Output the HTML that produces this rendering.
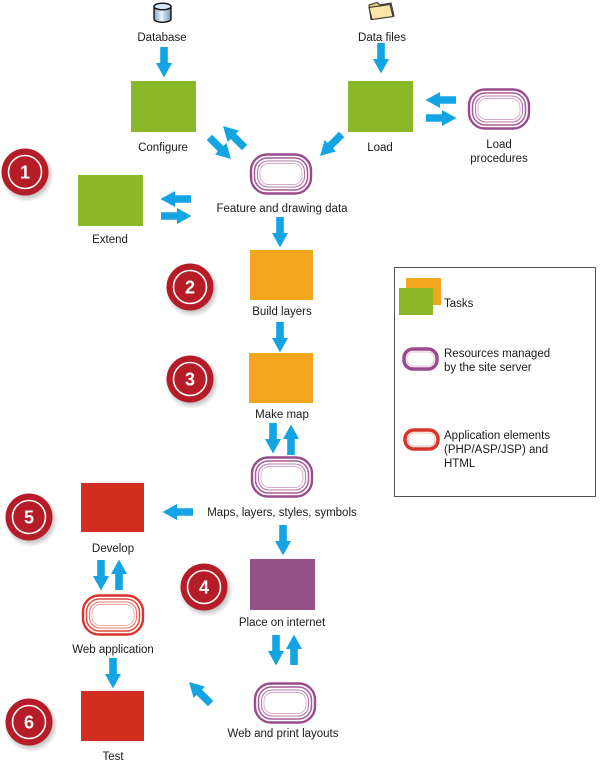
<!DOCTYPE html>
<html><head><meta charset="utf-8"><style>
html,body{margin:0;padding:0;background:#fff;}
svg{display:block;}
text{font-family:"Liberation Sans",Arial,sans-serif;font-size:11.5px;fill:#1a1a1a;}
.c{text-anchor:middle;}
.n{font-size:18px;font-weight:bold;fill:#fff;text-anchor:middle;}
</style></head><body>
<svg width="600" height="764" viewBox="0 0 600 764" xmlns="http://www.w3.org/2000/svg">
<defs>
  <polygon id="ar" points="-15,-3.8 1,-3.8 1,-8 15.5,0 1,8 1,3.8 -15,3.8" fill="#12a4e3"/>
  <g id="pe">
    <rect x="-30" y="-19.5" width="60" height="39" rx="16" fill="#fff" stroke="#9a4b8e" stroke-width="2.4"/>
    <rect x="-26.5" y="-16" width="53" height="32" rx="13" fill="none" stroke="#a65a9a" stroke-width="1.5"/>
    <rect x="-23.5" y="-13" width="47" height="26" rx="10.5" fill="none" stroke="#b77aac" stroke-width="1.1"/>
    <rect x="-21" y="-10.5" width="42" height="21" rx="8.5" fill="none" stroke="#d3aacb" stroke-width="0.9"/>
  </g>
  <g id="re">
    <rect x="-30" y="-19.5" width="60" height="39" rx="16" fill="#fff" stroke="#d8342a" stroke-width="2.4"/>
    <rect x="-26.5" y="-16" width="53" height="32" rx="13" fill="none" stroke="#df4a40" stroke-width="1.5"/>
    <rect x="-23.5" y="-13" width="47" height="26" rx="10.5" fill="none" stroke="#e87870" stroke-width="1.1"/>
    <rect x="-21" y="-10.5" width="42" height="21" rx="8.5" fill="none" stroke="#f0aaa5" stroke-width="0.9"/>
  </g>
  <radialGradient id="sh" cx="0.5" cy="0.5" r="0.5">
    <stop offset="0.75" stop-color="#000" stop-opacity="0.25"/>
    <stop offset="1" stop-color="#000" stop-opacity="0"/>
  </radialGradient>
  <g id="bd">
    <circle cx="2" cy="3" r="27" fill="url(#sh)"/>
    <circle cx="0" cy="0" r="23.5" fill="#b51c27"/>
    <circle cx="0" cy="0" r="16.5" fill="none" stroke="#fff" stroke-width="1.6"/>
  </g>
  <linearGradient id="cyl" x1="0" x2="1">
    <stop offset="0" stop-color="#7fa9c9"/><stop offset="0.45" stop-color="#e8f2fa"/><stop offset="1" stop-color="#6d95b8"/>
  </linearGradient>
</defs>

<!-- Database icon -->
<g stroke="#111" stroke-width="1.4">
  <path d="M154,6.5 L154,19 A8.5,3.3 0 0 0 171,19 L171,6.5" fill="url(#cyl)"/>
  <ellipse cx="162.5" cy="6.5" rx="8.5" ry="3.3" fill="#d6e6f2"/>
</g>
<text class="c" x="162" y="41">Database</text>

<!-- Data files folder -->
<g stroke="#333" stroke-width="1.1">
  <path d="M369,5 L377,2.5 L380,5 L391,3 L394,16 L371,19.5 Z" fill="#e9c877"/>
  <path d="M369,7.5 L390,4.5 L393,16.5 L372,19.5 Z" fill="#fbe6a8"/>
</g>
<text class="c" x="382" y="41">Data files</text>

<!-- Green task boxes -->
<rect x="131" y="81" width="65" height="51" fill="#8bb829"/>
<text class="c" x="163" y="151">Configure</text>
<rect x="348" y="81" width="65" height="51" fill="#8bb829"/>
<text class="c" x="380" y="151">Load</text>
<rect x="78" y="175" width="65" height="51" fill="#8bb829"/>
<text class="c" x="110" y="243">Extend</text>

<!-- Orange boxes -->
<rect x="250" y="250" width="63" height="50" fill="#f2a61d"/>
<text class="c" x="282" y="315">Build layers</text>
<rect x="249" y="353" width="64" height="50" fill="#f2a61d"/>
<text class="c" x="282" y="418">Make map</text>

<!-- Purple box -->
<rect x="250" y="559" width="65" height="51" fill="#965088"/>
<text class="c" x="282" y="626">Place on internet</text>

<!-- Red boxes -->
<rect x="81" y="483" width="63" height="49" fill="#d32d20"/>
<text class="c" x="113" y="552">Develop</text>
<rect x="81" y="691" width="63" height="50" fill="#d32d20"/>
<text class="c" x="113" y="760">Test</text>

<!-- Resource ellipses -->
<use href="#pe" x="499" y="109"/>
<text class="c" x="499" y="148">Load</text>
<text class="c" x="499" y="162">procedures</text>
<use href="#pe" x="281" y="174"/>
<text class="c" x="282" y="212">Feature and drawing data</text>
<use href="#pe" x="282" y="477"/>
<text class="c" x="282" y="516">Maps, layers, styles, symbols</text>
<use href="#pe" x="285" y="703"/>
<text class="c" x="283" y="737">Web and print layouts</text>
<use href="#re" x="113" y="615"/>
<text class="c" x="113" y="653">Web application</text>

<!-- Arrows -->
<use href="#ar" transform="translate(164,62) rotate(90)"/>
<use href="#ar" transform="translate(381,58) rotate(90)"/>
<use href="#ar" transform="translate(441,100) rotate(180)"/>
<use href="#ar" transform="translate(441,118)"/>
<use href="#ar" transform="translate(331,145) rotate(135)"/>
<use href="#ar" transform="translate(220,148) rotate(45)"/>
<use href="#ar" transform="translate(234,137) rotate(225)"/>
<use href="#ar" transform="translate(176,199) rotate(180)"/>
<use href="#ar" transform="translate(176,216)"/>
<use href="#ar" transform="translate(280,232) rotate(90)"/>
<use href="#ar" transform="translate(280,337) rotate(90)"/>
<use href="#ar" transform="translate(273,438) rotate(90)"/>
<use href="#ar" transform="translate(291,440) rotate(270)"/>
<use href="#ar" transform="translate(283,540) rotate(90)"/>
<use href="#ar" transform="translate(178,512) rotate(180)"/>
<use href="#ar" transform="translate(101,575) rotate(90)"/>
<use href="#ar" transform="translate(119,575) rotate(270)"/>
<use href="#ar" transform="translate(113,673) rotate(90)"/>
<use href="#ar" transform="translate(276,650) rotate(90)"/>
<use href="#ar" transform="translate(294,650) rotate(270)"/>
<use href="#ar" transform="translate(200,693) rotate(225)"/>

<!-- Badges -->
<use href="#bd" x="25" y="172"/><text class="n" x="25" y="178.5">1</text>
<use href="#bd" x="190" y="287"/><text class="n" x="190" y="293.5">2</text>
<use href="#bd" x="190" y="379"/><text class="n" x="190" y="385.5">3</text>
<use href="#bd" x="204" y="587"/><text class="n" x="204" y="593.5">4</text>
<use href="#bd" x="29" y="517"/><text class="n" x="29" y="523.5">5</text>
<use href="#bd" x="29" y="722"/><text class="n" x="29" y="728.5">6</text>

<!-- Legend -->
<rect x="394.5" y="267.5" width="201" height="229" fill="#fff" stroke="#555" stroke-width="1"/>
<rect x="406" y="278" width="35" height="27" fill="#f2a61d"/>
<rect x="399" y="288" width="34" height="27" fill="#8bb829"/>
<text x="444" y="307">Tasks</text>
<rect x="404" y="349" width="33" height="20" rx="9" fill="#fff" stroke="#9a4b8e" stroke-width="3.5"/>
<rect x="407" y="352" width="27" height="14" rx="6.5" fill="none" stroke="#e2c3dc" stroke-width="1"/>
<text x="444" y="357">Resources managed</text>
<text x="444" y="371">by the site server</text>
<rect x="405" y="430" width="33" height="19" rx="9" fill="#fff" stroke="#d8342a" stroke-width="3.5"/>
<rect x="408" y="433" width="27" height="13" rx="6" fill="none" stroke="#f3c0bc" stroke-width="1"/>
<text x="444" y="439">Application elements</text>
<text x="444" y="453">(PHP/ASP/JSP) and</text>
<text x="444" y="467">HTML</text>
</svg>
</body></html>
